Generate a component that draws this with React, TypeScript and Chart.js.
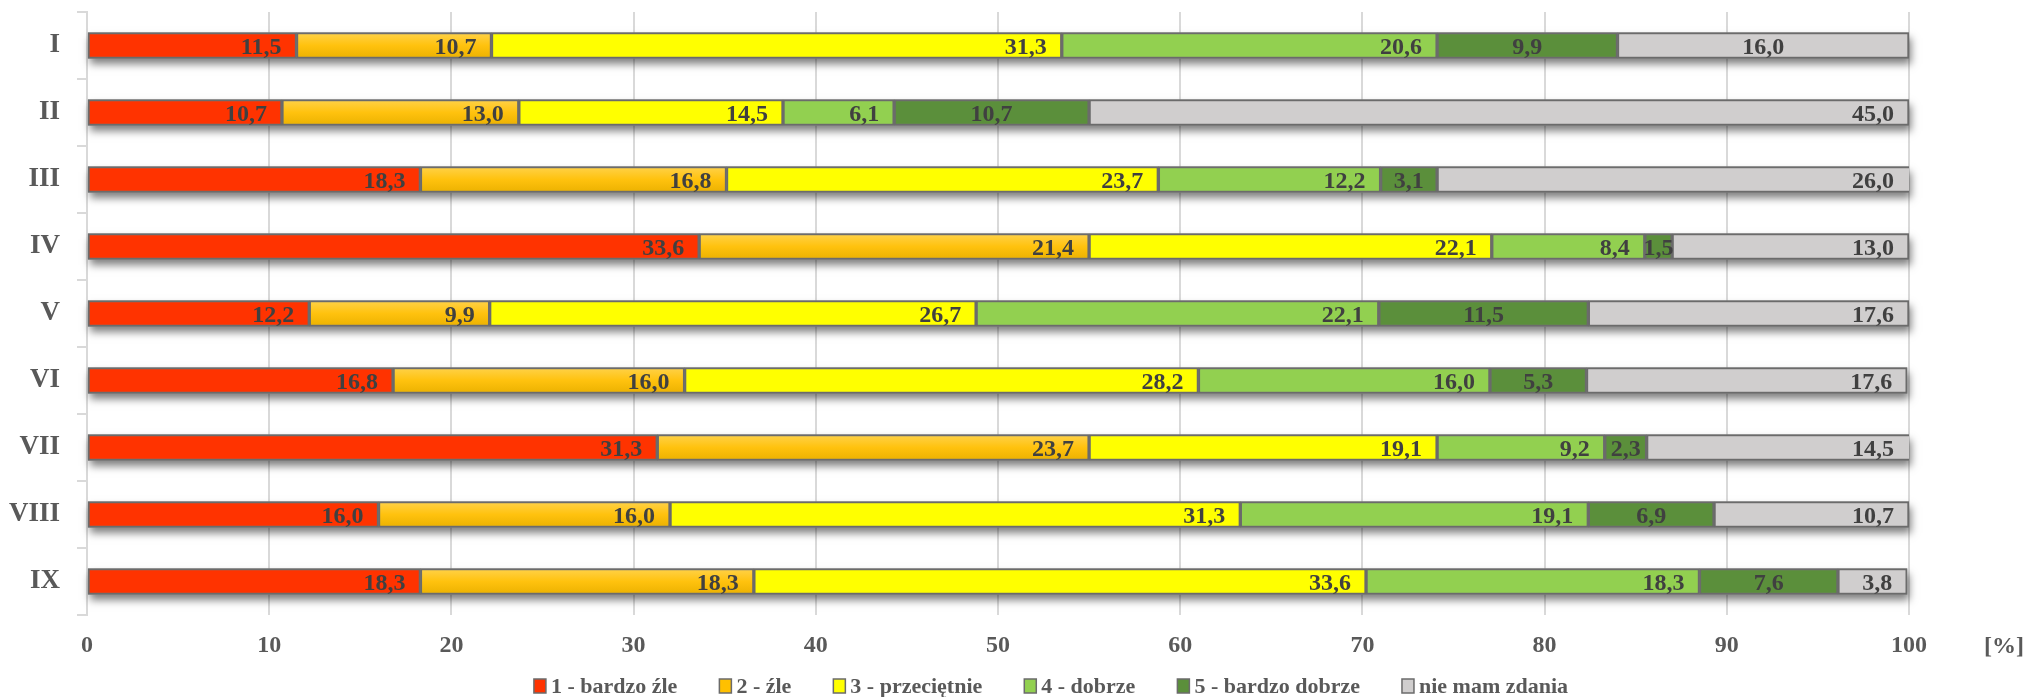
import React, { useEffect, useRef } from 'react';
import { Chart, registerables } from 'chart.js';

Chart.register(...registerables);

const categories = ['I', 'II', 'III', 'IV', 'V', 'VI', 'VII', 'VIII', 'IX'];
const seriesNames = ['1 - bardzo źle', '2 - źle', '3 - przeciętnie', '4 - dobrze', '5 - bardzo dobrze', 'nie mam zdania'];
const bardzoZle = [11.5, 10.7, 18.3, 33.6, 12.2, 16.8, 31.3, 16.0, 18.3];
const zle = [10.7, 13.0, 16.8, 21.4, 9.9, 16.0, 23.7, 16.0, 18.3];
const przecietnie = [31.3, 14.5, 23.7, 22.1, 26.7, 28.2, 19.1, 31.3, 33.6];
const dobrze = [20.6, 6.1, 12.2, 8.4, 22.1, 16.0, 9.2, 19.1, 18.3];
const bardzoDobrze = [9.9, 10.7, 3.1, 1.5, 11.5, 5.3, 2.3, 6.9, 7.6];
const nieMamZdania = [16.0, 45.0, 26.0, 13.0, 17.6, 17.6, 14.5, 10.7, 3.8];
const xMin = 0;
const xMax = 100;
const xStep = 10;
const unitLabel = '[%]';

const FONT = "'Liberation Serif', 'Times New Roman', serif";
const TEXT_GREY = '#595959';
const LABEL_DARK = '#404040';
const BORDER = '#6B6B6B';
const GRID = '#D9D9D9';
const colors = ['#FF3300', '#FFC000', '#FFFF00', '#92D050', '#5B8F3B', '#D0CECE'];
const BAR_THICK = 26;
const PLOT_BOTTOM = 615;

const orangeFill = (c: any) => {
  const chart = c.chart;
  const y = chart.scales && chart.scales.y;
  if (!y || c.dataIndex === undefined || !chart.chartArea) return colors[1];
  const cy = y.getPixelForValue(c.dataIndex);
  const g = chart.ctx.createLinearGradient(0, cy - BAR_THICK / 2, 0, cy + BAR_THICK / 2);
  g.addColorStop(0, '#FFD24A');
  g.addColorStop(0.5, '#FFC20E');
  g.addColorStop(1, '#EBB100');
  return g;
};

const fmt = (v: number) => v.toFixed(1).replace('.', ',');

const shadowPlugin = {
  id: 'barShadow',
  beforeDatasetsDraw(chart: any) {
    const ctx = chart.ctx;
    const metas = chart.getSortedVisibleDatasetMetas();
    const area = chart.chartArea;
    ctx.save();
    ctx.shadowColor = 'rgba(0,0,0,0.5)';
    ctx.shadowBlur = 8;
    ctx.shadowOffsetX = 2;
    ctx.shadowOffsetY = 5;
    ctx.fillStyle = '#9a9a9a';
    categories.forEach((_, i) => {
      let l = Infinity;
      let r = -Infinity;
      let t = 0;
      let b = 0;
      metas.forEach((m: any) => {
        const el = m.data[i];
        if (!el) return;
        const p = el.getProps(['x', 'base', 'y', 'height'], true);
        l = Math.min(l, p.base, p.x);
        r = Math.max(r, p.base, p.x);
        t = p.y - p.height / 2;
        b = p.y + p.height / 2;
      });
      r = Math.min(r, area.right);
      ctx.fillRect(l, t, r - l, b - t);
    });
    ctx.restore();
  },
};

// dataset 4 labels are centred; one extra centred label (row I, "nie mam zdania")
const centredDataset = 4;
const centredExtra = [[5, 0]];

const labelPlugin = {
  id: 'segLabels',
  afterDatasetsDraw(chart: any) {
    const ctx = chart.ctx;
    ctx.save();
    ctx.font = `bold 24px ${FONT}`;
    ctx.fillStyle = LABEL_DARK;
    ctx.textBaseline = 'alphabetic';
    chart.getSortedVisibleDatasetMetas().forEach((m: any) => {
      const d = m.index;
      const data = chart.data.datasets[d].data;
      m.data.forEach((el: any, i: number) => {
        const p = el.getProps(['x', 'base', 'y'], true);
        const v = data[i];
        const centred = d === centredDataset || centredExtra.some(([a, b]) => a === d && b === i);
        const ty = p.y + 8;
        if (centred) {
          ctx.textAlign = 'center';
          ctx.fillText(fmt(v), (p.x + p.base) / 2, ty);
        } else {
          ctx.textAlign = 'right';
          ctx.fillText(fmt(v), Math.min(p.x, chart.chartArea.right) - 15, ty);
        }
      });
    });
    ctx.restore();
  },
};

const extrasPlugin = {
  id: 'extras',
  afterDraw(chart: any) {
    const ctx = chart.ctx;
    const area = chart.chartArea;
    ctx.save();
    // unit label next to the x axis ticks
    ctx.font = `bold 24px ${FONT}`;
    ctx.fillStyle = TEXT_GREY;
    ctx.textAlign = 'right';
    ctx.textBaseline = 'middle';
    ctx.fillText(unitLabel, chart.width - 5, area.bottom + 32);

    // legend
    ctx.font = `bold 22px ${FONT}`;
    const box = 12;
    const gap = 5;
    const spacing = 42;
    const widths = seriesNames.map((s) => ctx.measureText(s).width);
    const total = widths.reduce((a, w) => a + box + gap + w, 0) + spacing * (seriesNames.length - 1);
    const centerX = 1051;
    const cy = 686;
    let x = centerX - total / 2;
    ctx.textAlign = 'left';
    ctx.textBaseline = 'middle';
    seriesNames.forEach((s, i) => {
      ctx.fillStyle = colors[i];
      ctx.fillRect(x, cy - 7, box, 14);
      ctx.strokeStyle = BORDER;
      ctx.lineWidth = 1.5;
      ctx.strokeRect(x, cy - 7, box, 14);
      ctx.fillStyle = TEXT_GREY;
      ctx.fillText(s, x + box + gap, cy + 1);
      x += box + gap + widths[i] + spacing;
    });
    ctx.restore();
  },
};

export default function App() {
  const ref = useRef<HTMLCanvasElement | null>(null);
  useEffect(() => {
    document.body.style.margin = '0';
    const canvas = ref.current;
    if (!canvas) return;
    const seriesValues = [bardzoZle, zle, przecietnie, dobrze, bardzoDobrze, nieMamZdania];
    const chart = new Chart(canvas, {
      type: 'bar',
      data: {
        labels: categories,
        datasets: seriesValues.map((vals, i) => ({
          label: seriesNames[i],
          data: vals,
          backgroundColor: i === 1 ? orangeFill : colors[i],
          borderColor: BORDER,
          borderWidth: 2,
          borderSkipped: false,
          barThickness: BAR_THICK,
        })),
      },
      options: {
        indexAxis: 'y',
        animation: false,
        responsive: false,
        devicePixelRatio: 1,
        layout: { padding: { top: 12, right: 120, bottom: 0, left: 0 } },
        plugins: {
          legend: { display: false },
          tooltip: { enabled: false },
        },
        scales: {
          x: {
            stacked: true,
            min: xMin,
            max: xMax,
            ticks: {
              stepSize: xStep,
              padding: 16,
              color: TEXT_GREY,
              font: { family: FONT, size: 24, weight: 'bold' },
            },
            grid: { color: GRID, lineWidth: 2, drawTicks: false },
            border: { display: false },
            afterFit(s: any) {
              s.paddingLeft = 0;
              s.paddingRight = 0;
              s.height = 697 - PLOT_BOTTOM;
            },
          },
          y: {
            stacked: true,
            grid: { offset: true, drawOnChartArea: false, drawTicks: true, tickLength: 10, color: GRID, lineWidth: 2 },
            border: { display: true, color: GRID, width: 2 },
            ticks: {
              padding: 17,
              color: TEXT_GREY,
              font: { family: FONT, size: 27, weight: 'bold' },
            },
            afterFit(s: any) {
              s.width = 87;
              s.paddingTop = 0;
              s.paddingBottom = 0;
            },
          },
        },
      } as any,
      plugins: [shadowPlugin, labelPlugin, extrasPlugin],
    });
    return () => chart.destroy();
  }, []);
  return (
    <div style={{ width: 2029, height: 697 }}>
      <canvas ref={ref} width={2029} height={697} style={{ display: 'block' }} />
    </div>
  );
}
